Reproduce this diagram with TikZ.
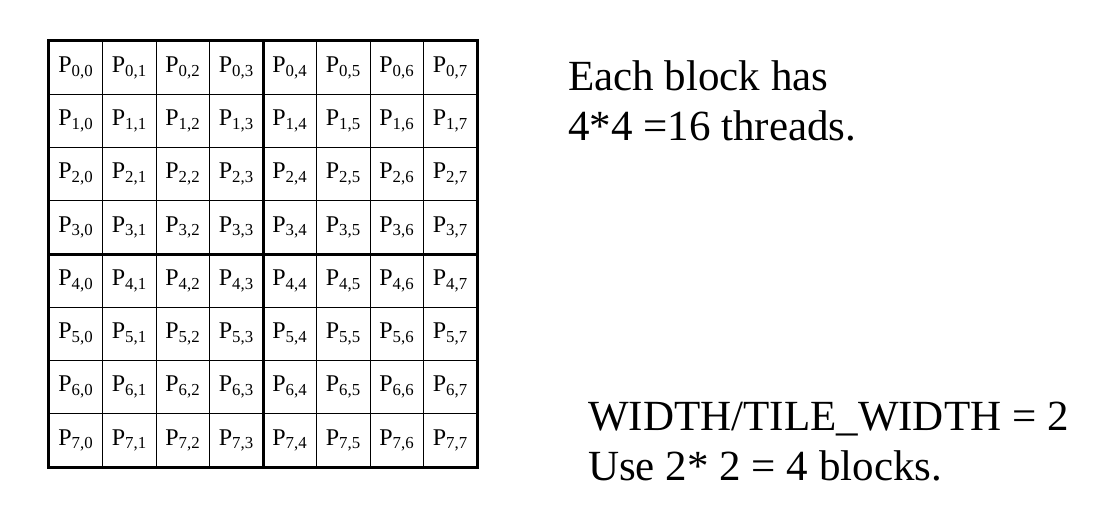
\documentclass[tikz,border=0pt]{standalone}
\usepackage{fontspec}
\setmainfont{Liberation Serif}
\begin{document}
\begin{tikzpicture}[x=1pt,y=-1pt,
  cell/.style={draw=black,line width=1pt,minimum width=53.5pt,minimum height=53.25pt,inner sep=0pt,font=\fontsize{24}{28}\selectfont},
  thick line/.style={line width=3.6pt},
  note/.style={anchor=base west,align=left,inner sep=0pt,font=\fontsize{43}{50}\selectfont}]
\useasboundingbox (0,0) rectangle (1108,508);
\foreach \i in {0,...,7}{
  \foreach \j in {0,...,7}{
    \node[cell] (c\i\j) at ({49+53.5*(\j+0.5)},{41+53.25*(\i+0.5)}) {P\textsubscript{\i,\j}};
  }
}
\draw[thick line] (c00.north west) rectangle (c77.south east);
\draw[thick line] (c03.north east) -- (c73.south east);
\draw[thick line] (c30.south west) -- (c37.south east);
\node[note] (t1) at (568,140) {Each block has\\4*4 =16 threads.};
\node[note] (t2) at (588,480) {WIDTH/TILE\_WIDTH = 2\\Use 2* 2 = 4 blocks.};
\end{tikzpicture}
\end{document}
